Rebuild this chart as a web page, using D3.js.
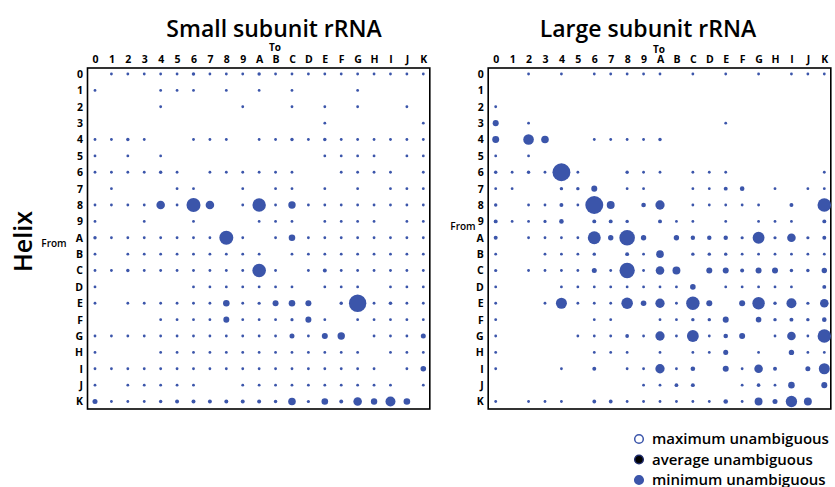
<!DOCTYPE html>
<html><head><meta charset="utf-8">
<script src="https://cdn.jsdelivr.net/npm/d3@7"></script>
<style>
body{margin:0;background:#fff;}
text{font-family:"Open Sans","Noto Sans",sans-serif;}
</style></head>
<body><svg id="c" width="835" height="487"></svg>
<script>
const helices = ["0","1","2","3","4","5","6","7","8","9","A","B","C","D","E","F","G","H","I","J","K"];
const tickLabels = ["0","1","2","3","4","5","6","7","8","9","A","B","C","D","E","F","G","H","I","J","K"];
const legendLabels = ["maximum unambiguous","average unambiguous","minimum unambiguous"];
const titles = ["Small subunit rRNA","Large subunit rRNA"];

// rows = From helix, columns = To helix (0..K); 0 = no mark
const smallSubunit = [
 [0,1,1,1,1,1,1.5,1,1,1,1.5,1,1,1,1,1,1,1,1,1,1],
 [1,0,0,0,1,1,1,0,1,0,1,0,1,0,0,0,1,0,0,0,0],
 [0,0,0,0,1,0,0,0,0,1,0,0,1,0,1,0,1,0,0,1,0],
 [0,0,0,0,0,0,0,0,0,0,0,0,0,0,1,0,0,0,0,0,1],
 [1,1,1.5,1,0,0,1,1,1,0,1,1,1.5,1,1.5,1,1,1,1,1,1],
 [1,0,1,0,1,0,0,0,0,0,0,0,0,0,1,1,1,1,0,1,1],
 [1,1,1,1,1.5,1,0,1,1,1,1,1,1,0,0,1,1,1,1,0,1],
 [0,1,0,0,0,1,1,0,0,1,0,1,1,0,1,0,1,0,1,1,1],
 [1,1,1,1,9.4,1,25,9.4,0,1,23,1,7,1,1,1,1,1,1,1,1],
 [1,0,0,1,0,0,1,0,0,0,1,1,1,0,1,1,1,1,0,1,1],
 [1.5,1,1,1,1,1,1,1,25,1,0,1,5.5,1,1,1,1,1,1,1,1],
 [1,0,1,1,1,1,1,1,1,1,1,0,1,1,1,1,1,1,1,1,1],
 [1,1,1.5,1,1,1,1,1,1,1,23.6,1,0,1,2,1,1,1,1,1,1],
 [1,0,0,0,0,0,1,1,1,1,1,1,1,0,1,1,1,0,1,1,1],
 [1,0,1,1,1,1,1,1,5.5,1,1.3,4.6,5.5,4.6,0,1.5,38.6,1,1.7,1,1],
 [0,0,0,0,1,1,1,1,4.6,1,1,1,1.3,4.6,1,0,1,1,1,1,1],
 [1,1,1,1,1,1,1,1,1,1,1,1,3.2,1,4.6,7,0,1,1,1,3.2],
 [1,0,0,0,1,1,1,1,1,1,1,1,1,1,1,1,1,0,1,1,1],
 [1,1,1,1,1,1,1,1,1,1,1,1,1,1,1,1,1,1,0,1,4],
 [1,0,1,1,1,1,1,0,0,1,1,1,1,1,1,1,1,1,1,0,1],
 [3.2,1,1,1,1.5,2,2,2,2,2,2,1.5,7.4,1.3,5.6,2,9.4,5.2,12.7,5.6,0]
];
const largeSubunit = [
 [0,0,1,0,1,0,1,1,1,1,1,0,1,0,1,0,1,0,1,1,1],
 [0,0,0,0,0,0,0,0,0,0,0,0,0,0,0,0,0,0,0,0,0],
 [1,0,0,0,0,0,0,0,0,0,0,0,0,0,0,0,0,0,0,0,0],
 [4.6,0,1,0,0,0,0,0,0,0,0,0,0,0,1,0,0,0,0,0,0],
 [6.2,0,14.4,7.4,0,0,1,1,1,1,1.5,0,0,0,0,0,0,0,0,0,0],
 [1,0,1,0,0,0,0,0,0,0,0,0,0,0,0,0,0,0,0,0,0],
 [1.5,1,1.5,1,41,1,0,0,1.5,1,1,0,1,1,1,0,0,0,0,0,1],
 [1,1,0,0,1.5,1.5,4.6,0,1,1,0,0,1,1,2,2.7,0,1,0,1,1],
 [1.5,0,1,1,2,1,41,8,0,2.7,11,0,1,1,1,1,1,0,2,0,23.6],
 [2,1,1,1.3,2.7,0,2,2,1.5,0,2,1,1,0,1,0,1,1,1,0,2],
 [2,0,1,1,1,1,21.5,3.7,31,3.7,0,3.7,2.5,2.5,2.5,1.3,18,1.3,9.4,1.3,2],
 [1,0,0,1,1,1,1.5,0,2,1,7.4,0,1.5,1.5,1.5,1,1,1,1,1,1],
 [1.3,0,1,1,1,1,3.2,1,30,1,9.4,8,0,4.6,4.6,2,4.6,4.6,1.5,1.5,3.7],
 [1,0,0,0,1,1,1,1,1,1,1,1,4,0,1,1,1,1,1,0,2],
 [1,0,0,1,15.4,1,1,1,17,4,11,1,23,4.6,0,4.6,19.6,1.5,12.7,1.3,9.4],
 [1,0,0,0,0,0,1,1,0,0,1,1,1.5,1.5,4.6,0,4,1.5,2,1.5,2.7],
 [1,0,0,0,0,1,1,1,1.8,1,11,1,18,1,2.7,4.6,0,1,9.4,1,23],
 [1,0,0,0,0,0,1,1,1,0,1,0,1,1,3.2,0,1,0,3.7,1,1],
 [1,0,0,0,1,0,2,0,1,1,11,1,2.7,0,4.6,1,9.4,2,0,3.2,15.4],
 [0,0,0,0,0,0,0,0,0,1,1,1.8,2,0,0,1,1.7,1,5.5,0,4.6],
 [1,0,1,1,1,0,1.8,1.8,1,1,1,1,1,1,2.7,1,8,3.2,16.5,8,0]
];

const blue = "#3b55aa";
const svg = d3.select("#c");
const r = d3.scaleSqrt().domain([0, 40]).range([0, 8.85]);

const panels = [
  {data: smallSubunit, title: titles[0], x0: 95, x1: 423.3, titleX: 274, toX: 275, toY: 51, fromX: 54, fromY: 247},
  {data: largeSubunit, title: titles[1], x0: 495.7, x1: 824.3, titleX: 648, toX: 659, toY: 53, fromX: 463, fromY: 230}
];
const y = d3.scalePoint().domain(helices).range([74, 401.5]);

panels.forEach(p => {
  const x = d3.scalePoint().domain(helices).range([p.x0, p.x1]);
  const g = svg.append("g");
  const pad = 7.5;
  const left = p.x0 - pad, right = p.x1 + 6.5, top = y.range()[0] - 6, bottom = y.range()[1] + 7.5;

  g.append("text").attr("x", p.titleX).attr("y", 37).attr("text-anchor", "middle")
    .attr("font-size", 23).attr("font-weight", 600).attr("fill", "#000").text(p.title);
  g.append("text").attr("x", p.toX).attr("y", p.toY).attr("text-anchor", "middle")
    .attr("font-size", 10).attr("font-weight", 700).text("To");
  g.append("text").attr("x", p.fromX).attr("y", p.fromY).attr("text-anchor", "middle")
    .attr("font-size", 10).attr("font-weight", 600).text("From");

  // top axis
  const xAxis = d3.axisTop(x).tickSize(0).tickPadding(0).tickFormat((d, i) => tickLabels[i]);
  const ax = g.append("g").attr("transform", `translate(0,${top - 5})`).call(xAxis);
  ax.select(".domain").remove();
  ax.selectAll("text").attr("font-size", 10.5).attr("font-weight", 700)
    .attr("font-family", '"DejaVu Sans",sans-serif').attr("fill", "#000");

  const yAxis = d3.axisLeft(y).tickSize(0).tickPadding(0).tickFormat((d, i) => tickLabels[i]);
  const ay = g.append("g").attr("transform", `translate(${left - 4.5},0)`).call(yAxis);
  ay.select(".domain").remove();
  ay.selectAll("text").attr("font-size", 10.5).attr("font-weight", 700)
    .attr("font-family", '"DejaVu Sans",sans-serif').attr("fill", "#000");

  g.append("rect").attr("x", left).attr("y", top).attr("width", right - left).attr("height", bottom - top)
    .attr("fill", "#fff").attr("stroke", "#000").attr("stroke-width", 1.6);

  const cells = [];
  p.data.forEach((row, i) => row.forEach((v, j) => { if (v > 0) cells.push({from: helices[i], to: helices[j], v}); }));
  g.selectAll("circle.cell").data(cells).join("circle").attr("class", "cell")
    .attr("cx", d => x(d.to)).attr("cy", d => y(d.from)).attr("r", d => r(d.v))
    .attr("fill", blue);
});

svg.append("text").attr("transform", "translate(32,241.5) rotate(-90)").attr("text-anchor", "middle")
  .attr("font-size", 25).attr("font-weight", 600).text("Helix");

// legend
const leg = svg.append("g");
const legY = d3.scalePoint().domain(legendLabels).range([439, 480]);
const legStyle = [
  {fill: "#fff", stroke: blue},
  {fill: "#000", stroke: "#1d2a6a"},
  {fill: blue, stroke: blue}
];
legendLabels.forEach((l, i) => {
  leg.append("circle").attr("cx", 639).attr("cy", legY(l)).attr("r", 4.3)
    .attr("fill", legStyle[i].fill).attr("stroke", legStyle[i].stroke).attr("stroke-width", 1.5);
  leg.append("text").attr("x", 652).attr("y", legY(l) + 5).attr("font-size", 15).attr("font-weight", 600)
    .attr("fill", "#000").text(l);
});
</script></body></html>
